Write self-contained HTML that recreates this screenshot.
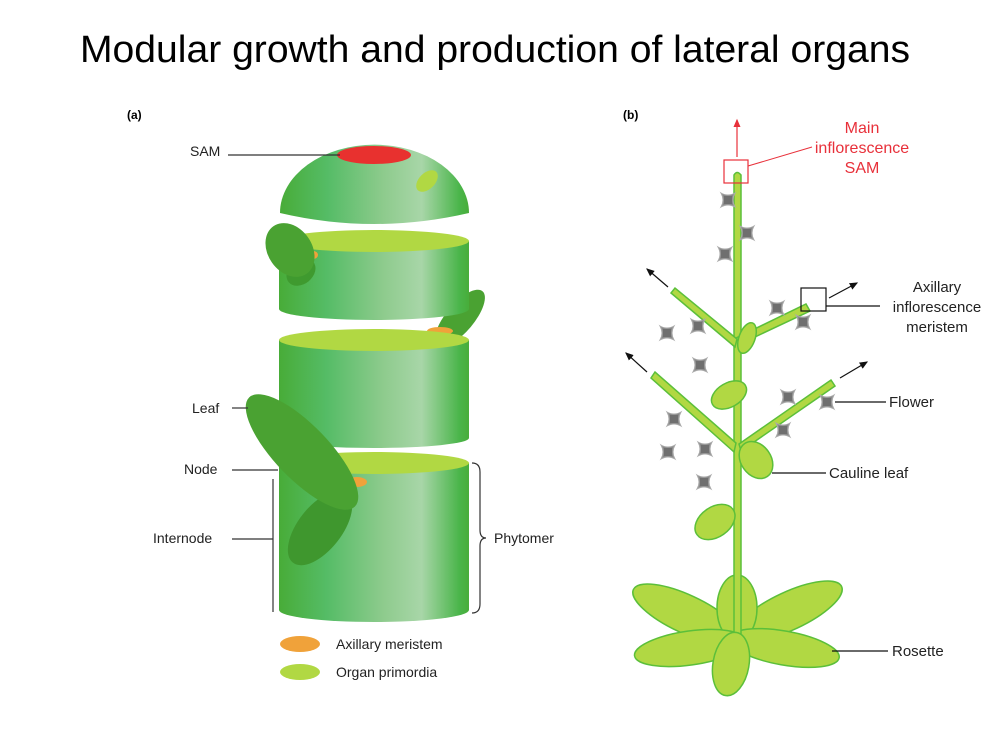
<!DOCTYPE html>
<html><head><meta charset="utf-8"><style>body{margin:0;background:#fff}svg{display:block}</style></head><body>
<svg width="1000" height="750" viewBox="0 0 1000 750" xmlns="http://www.w3.org/2000/svg" font-family="Liberation Sans, sans-serif">
<defs>
<linearGradient id="cg" x1="0" x2="1" y1="0" y2="0">
<stop offset="0" stop-color="#48ac38"/><stop offset="0.25" stop-color="#55bc66"/><stop offset="0.55" stop-color="#8ecb8d"/><stop offset="0.75" stop-color="#a8d6a8"/><stop offset="0.95" stop-color="#4ab54a"/><stop offset="1" stop-color="#48ad3a"/>
</linearGradient>
<g id="fl"><path d="M-7,-7 Q0,-3 7,-7 Q3,0 7,7 Q0,3 -7,7 Q-3,0 -7,-7Z" fill="#8a8a8a" stroke="#aaa" stroke-width="1"/><rect x="-4" y="-4" width="8" height="8" fill="#6f6f6f"/></g>
<marker id="ah" markerWidth="8" markerHeight="8" refX="6" refY="4" orient="auto"><path d="M0,1 L7,4 L0,7Z" fill="#111"/></marker>
<marker id="ahr" markerWidth="8" markerHeight="8" refX="6" refY="4" orient="auto"><path d="M0,1 L7,4 L0,7Z" fill="#e8303a"/></marker>
</defs>
<text x="495" y="62" font-size="38" text-anchor="middle" textLength="830" lengthAdjust="spacingAndGlyphs" fill="#000">Modular growth and production of lateral organs</text>
<text x="127" y="119" font-size="12" font-weight="bold">(a)</text>
<text x="623" y="119" font-size="12" font-weight="bold">(b)</text>

<ellipse cx="460" cy="318" rx="14" ry="35" transform="rotate(40 460 318)" fill="#4aa232"/>
<path d="M280,213 A94,68 0 0 1 469,213 Q374,235 280,213Z" fill="url(#cg)"/>
<ellipse cx="374" cy="155" rx="37" ry="9" fill="#e8312f"/>
<ellipse cx="427" cy="181" rx="13" ry="8" transform="rotate(-45 427 181)" fill="#b1d843"/>
<path d="M279,241 L469,241 L469,309 A95,11 0 0 1 279,309Z" fill="url(#cg)"/>
<ellipse cx="374" cy="241" rx="95" ry="11" fill="#b1d843"/>
<ellipse cx="313" cy="255" rx="5" ry="4" fill="#f0a23a"/>
<ellipse cx="301" cy="272" rx="16" ry="12" transform="rotate(-40 301 272)" fill="#3f9a2f"/>
<ellipse cx="290" cy="250" rx="22" ry="29" transform="rotate(-35 290 250)" fill="#4aa232"/>
<ellipse cx="440" cy="331" rx="13" ry="4" fill="#f0a23a"/>
<path d="M279,340 L469,340 L469,438 A95,10 0 0 1 279,438Z" fill="url(#cg)"/>
<ellipse cx="374" cy="340" rx="95" ry="11" fill="#b1d843"/>
<path d="M279,463 L469,463 L469,610 A95,12 0 0 1 279,610Z" fill="url(#cg)"/>
<ellipse cx="374" cy="463" rx="95" ry="11" fill="#b1d843"/>
<ellipse cx="357" cy="482" rx="10" ry="5" fill="#f0a23a"/>
<ellipse cx="320" cy="528" rx="44" ry="22" transform="rotate(-52 320 528)" fill="#3f972e"/>
<ellipse cx="302" cy="452" rx="76" ry="27" transform="rotate(46 302 452)" fill="#4aa232"/>

<g stroke="#333" stroke-width="1.2" fill="none">
<line x1="228" y1="155" x2="340" y2="155"/>
<line x1="232" y1="408" x2="248" y2="408"/>
<line x1="232" y1="470" x2="278" y2="470"/>
<line x1="232" y1="539" x2="273" y2="539"/>
<line x1="273" y1="479" x2="273" y2="612"/>
<path d="M472,463 Q480,463 480,472 L480,530 Q480,538 486,538 Q480,538 480,546 L480,604 Q480,613 472,613"/>
</g>
<g font-size="14" fill="#222">
<text x="190" y="156">SAM</text>
<text x="192" y="413">Leaf</text>
<text x="184" y="474">Node</text>
<text x="153" y="543">Internode</text>
<text x="494" y="543">Phytomer</text>
<text x="336" y="649">Axillary meristem</text>
<text x="336" y="677">Organ primordia</text>
</g>
<ellipse cx="300" cy="644" rx="20" ry="8" fill="#f0a23a"/>
<ellipse cx="300" cy="672" rx="20" ry="8" fill="#b1d843"/>

<g fill="#b1d843" stroke="#5bbf3a" stroke-width="1.5">
<ellipse cx="686" cy="614" rx="58" ry="19" transform="rotate(25 686 614)"/>
<ellipse cx="789" cy="611" rx="58" ry="19" transform="rotate(-25 789 611)"/>
<ellipse cx="737" cy="608" rx="20" ry="33"/>
<ellipse cx="690" cy="648" rx="56" ry="17" transform="rotate(-8 690 648)"/>
<ellipse cx="784" cy="648" rx="56" ry="17" transform="rotate(10 784 648)"/>
<path d="M734,570 L734,175 Q737,170 741,175 L741,640 L734,640Z"/>
<ellipse cx="731" cy="664" rx="18" ry="32" transform="rotate(10 731 664)"/>
<path d="M736,338 L806,304 L810,311 L740,344Z"/>
<path d="M735,347 L671,293 L675,288 L737,339Z"/>
<path d="M739,444 L831,380 L835,386 L741,451Z"/>
<path d="M734,452 L651,378 L655,372 L736,443Z"/>
<ellipse cx="747" cy="338" rx="8" ry="16" transform="rotate(20 747 338)"/>
<ellipse cx="729" cy="395" rx="19" ry="12" transform="rotate(-30 729 395)"/>
<ellipse cx="756" cy="460" rx="15" ry="20" transform="rotate(-35 756 460)"/>
<ellipse cx="715" cy="522" rx="22" ry="15" transform="rotate(-35 715 522)"/>
</g>
<g>
<use href="#fl" x="728" y="200"/><use href="#fl" x="747" y="233"/><use href="#fl" x="725" y="254"/>
<use href="#fl" x="777" y="308"/><use href="#fl" x="803" y="322"/><use href="#fl" x="698" y="326"/>
<use href="#fl" x="667" y="333"/><use href="#fl" x="700" y="365"/><use href="#fl" x="788" y="397"/>
<use href="#fl" x="827" y="402"/><use href="#fl" x="783" y="430"/><use href="#fl" x="674" y="419"/>
<use href="#fl" x="668" y="452"/><use href="#fl" x="705" y="449"/><use href="#fl" x="704" y="482"/>
</g>
<rect x="724" y="160" width="24" height="23" fill="none" stroke="#e8303a" stroke-width="1.2"/>
<line x1="737" y1="157" x2="737" y2="120" stroke="#e8303a" stroke-width="1.2" marker-end="url(#ahr)"/>
<line x1="748" y1="166" x2="812" y2="147" stroke="#e8303a" stroke-width="1"/>
<g font-size="16" fill="#e8303a" text-anchor="middle">
<text x="862" y="133">Main</text><text x="862" y="153">inflorescence</text><text x="862" y="173">SAM</text>
</g>
<rect x="801" y="288" width="25" height="23" fill="none" stroke="#111" stroke-width="1.2"/>
<g stroke="#111" stroke-width="1.2" fill="none">
<line x1="829" y1="298" x2="857" y2="283" marker-end="url(#ah)"/>
<line x1="668" y1="287" x2="647" y2="269" marker-end="url(#ah)"/>
<line x1="840" y1="378" x2="867" y2="362" marker-end="url(#ah)"/>
<line x1="647" y1="372" x2="626" y2="353" marker-end="url(#ah)"/>
<line x1="826" y1="306" x2="880" y2="306"/>
<line x1="835" y1="402" x2="886" y2="402"/>
<line x1="772" y1="473" x2="826" y2="473"/>
<line x1="832" y1="651" x2="888" y2="651"/>
</g>
<g font-size="15" fill="#222">
<text x="937" y="292" text-anchor="middle">Axillary</text>
<text x="937" y="312" text-anchor="middle">inflorescence</text>
<text x="937" y="332" text-anchor="middle">meristem</text>
<text x="889" y="407">Flower</text>
<text x="829" y="478">Cauline leaf</text>
<text x="892" y="656">Rosette</text>
</g>
</svg>
</body></html>
